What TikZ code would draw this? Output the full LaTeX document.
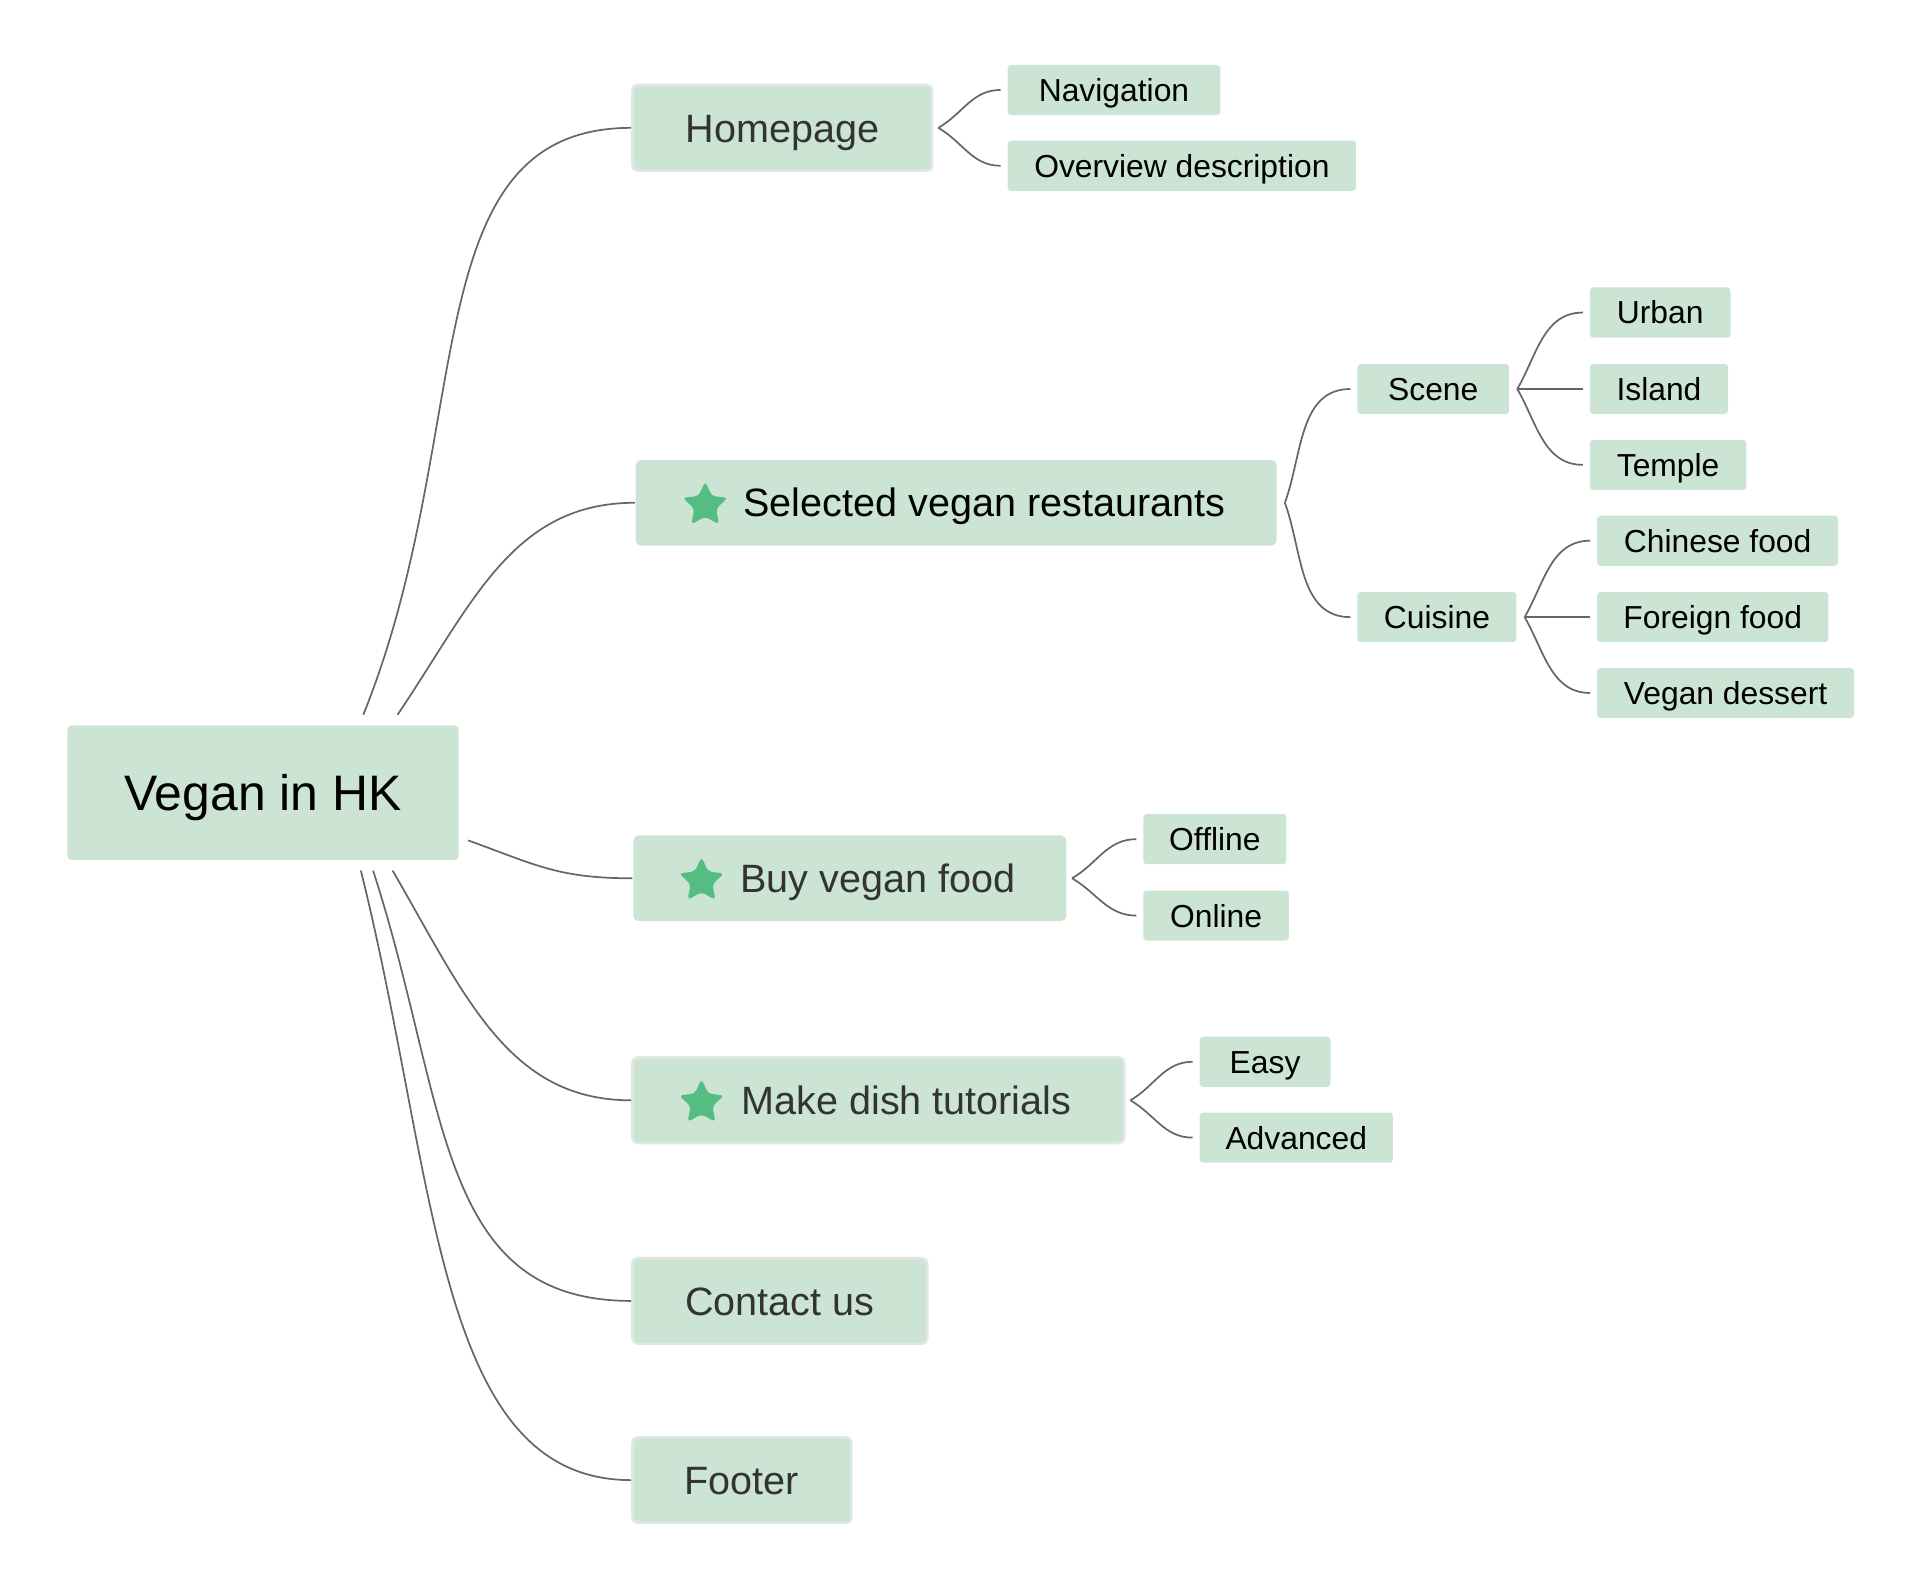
\documentclass[tikz,border=0pt]{standalone}
\usepackage{fontspec}
\setmainfont{Liberation Sans}
\usepackage{xcolor}
\usepackage{tikz}
\usetikzlibrary{shapes.geometric}

\definecolor{mint}{HTML}{CCE4D4}
\definecolor{rim}{HTML}{E1E8E3}
\definecolor{ink}{HTML}{333333}
\definecolor{wire}{HTML}{666666}
\definecolor{leafstar}{HTML}{55BD81}

\begin{document}
\begin{tikzpicture}[
		rootbox/.style={fill=mint, rounded corners=1pt, minimum width=3.2cm, minimum height=1.1cm, text height=8.3pt, text depth=0pt, font=\fontsize{11.6}{14}\selectfont},
		topic/.style={fill=mint, rounded corners=1.2pt, minimum height=0.7cm, inner xsep=0pt, text height=6.6pt, text depth=0pt, font=\fontsize{9.2}{11}\selectfont, anchor=west},
		framed/.style={draw=rim, line width=0.6pt, text=ink},
		leaf/.style={fill=mint, rounded corners=0.8pt, minimum height=0.41cm, inner xsep=0pt, inner ysep=0pt, text height=5.3pt, text depth=0pt, font=\fontsize{7.4}{9}\selectfont, anchor=west},
		starmark/.style={star, star points=5, star point ratio=2.1, fill=leafstar, rounded corners=0.9pt, minimum size=0.39cm, inner sep=0pt},
		limb/.style={draw=wire, line width=0.4pt}
	]
		\useasboundingbox (0,0) rectangle (15.68,-12.92);

		\node[rootbox] (root) at (2.15,-6.48) {Vegan in HK};

		\node[topic, framed, minimum width=2.45cm] (home) at (5.16,-1.045) {Homepage};
		\node[topic, minimum width=5.24cm] (sel) at (5.19,-4.11) {\hspace*{4.6mm}Selected vegan restaurants};
		\node[topic, text=ink, minimum width=3.54cm] (buy) at (5.17,-7.18) {\hspace*{4.6mm}Buy vegan food};
		\node[topic, framed, minimum width=4.02cm] (make) at (5.16,-8.995) {\hspace*{4.6mm}Make dish tutorials};
		\node[topic, framed, minimum width=2.41cm] (contact) at (5.16,-10.635) {Contact us};
		\node[topic, framed, minimum width=1.79cm] (footer) at (5.16,-12.10) {Footer};

		\node[starmark] (selstar) at ([xshift=5.75mm,yshift=-0.2mm]sel.west) {};
		\node[starmark] (buystar) at ([xshift=5.65mm,yshift=-0.2mm]buy.west) {};
		\node[starmark] (makestar) at ([xshift=5.75mm,yshift=-0.2mm]make.west) {};

		\node[leaf, minimum width=1.74cm] (nav) at (8.23,-0.735) {Navigation};
		\node[leaf, minimum width=2.85cm] (overview) at (8.23,-1.355) {Overview description};
		\node[leaf, minimum width=1.24cm] (scene) at (11.09,-3.18) {Scene};
		\node[leaf, minimum width=1.30cm] (cuisine) at (11.09,-5.045) {Cuisine};
		\node[leaf, minimum width=1.15cm] (urban) at (12.99,-2.555) {Urban};
		\node[leaf, minimum width=1.13cm] (island) at (12.99,-3.18) {Island};
		\node[leaf, minimum width=1.28cm] (temple) at (12.99,-3.80) {Temple};
		\node[leaf, minimum width=1.97cm] (chinese) at (13.05,-4.42) {Chinese food};
		\node[leaf, minimum width=1.89cm] (foreign) at (13.05,-5.045) {Foreign food};
		\node[leaf, minimum width=2.10cm] (dessert) at (13.05,-5.665) {Vegan dessert};
		\node[leaf, minimum width=1.17cm] (offline) at (9.34,-6.86) {Offline};
		\node[leaf, minimum width=1.19cm] (online) at (9.34,-7.485) {Online};
		\node[leaf, minimum width=1.07cm] (easy) at (9.80,-8.68) {Easy};
		\node[leaf, minimum width=1.58cm] (advanced) at (9.80,-9.30) {Advanced};

		\coordinate (homefork) at ([shift={(0.82,0.08)}]root.north);
		\coordinate (selfork) at ([shift={(1.10,0.08)}]root.north);
		\coordinate (buyfork) at ([shift={(0.07,-0.39)}]root.east);
		\coordinate (makefork) at ([shift={(1.06,-0.08)}]root.south);
		\coordinate (contactfork) at ([shift={(0.90,-0.08)}]root.south);
		\coordinate (footerfork) at ([shift={(0.80,-0.08)}]root.south);

		\draw[limb] (homefork) .. controls +(68:2.5) and +(-1.8,0) .. (home.west);
		\draw[limb] (selfork) .. controls +(56:1.1) and +(-1.0,0) .. (sel.west);
		\draw[limb] (buyfork) .. controls +(-20:0.6) and +(-0.6,0) .. (buy.west);
		\draw[limb] (makefork) .. controls +(-60:1.2) and +(-1.0,0) .. (make.west);
		\draw[limb] (contactfork) .. controls +(-72:2.0) and +(-1.6,0) .. (contact.west);
		\draw[limb] (footerfork) .. controls +(-76:2.6) and +(-1.6,0) .. (footer.west);

		\draw[limb] ([xshift=0.4mm]home.east) to[out=30,in=180] ([xshift=-0.5mm]nav.west);
		\draw[limb] ([xshift=0.4mm]home.east) to[out=-30,in=180] ([xshift=-0.5mm]overview.west);
		\draw[limb] ([xshift=0.6mm]sel.east) to[out=70,in=180] ([xshift=-0.5mm]scene.west);
		\draw[limb] ([xshift=0.6mm]sel.east) to[out=-70,in=180] ([xshift=-0.5mm]cuisine.west);
		\draw[limb] ([xshift=0.6mm]scene.east) to[out=60,in=180] ([xshift=-0.5mm]urban.west);
		\draw[limb] ([xshift=0.6mm]scene.east) -- ([xshift=-0.5mm]island.west);
		\draw[limb] ([xshift=0.6mm]scene.east) to[out=-60,in=180] ([xshift=-0.5mm]temple.west);
		\draw[limb] ([xshift=0.6mm]cuisine.east) to[out=60,in=180] ([xshift=-0.5mm]chinese.west);
		\draw[limb] ([xshift=0.6mm]cuisine.east) -- ([xshift=-0.5mm]foreign.west);
		\draw[limb] ([xshift=0.6mm]cuisine.east) to[out=-60,in=180] ([xshift=-0.5mm]dessert.west);
		\draw[limb] ([xshift=0.4mm]buy.east) to[out=30,in=180] ([xshift=-0.5mm]offline.west);
		\draw[limb] ([xshift=0.4mm]buy.east) to[out=-30,in=180] ([xshift=-0.5mm]online.west);
		\draw[limb] ([xshift=0.4mm]make.east) to[out=30,in=180] ([xshift=-0.5mm]easy.west);
		\draw[limb] ([xshift=0.4mm]make.east) to[out=-30,in=180] ([xshift=-0.5mm]advanced.west);
	\end{tikzpicture}
\end{document}
